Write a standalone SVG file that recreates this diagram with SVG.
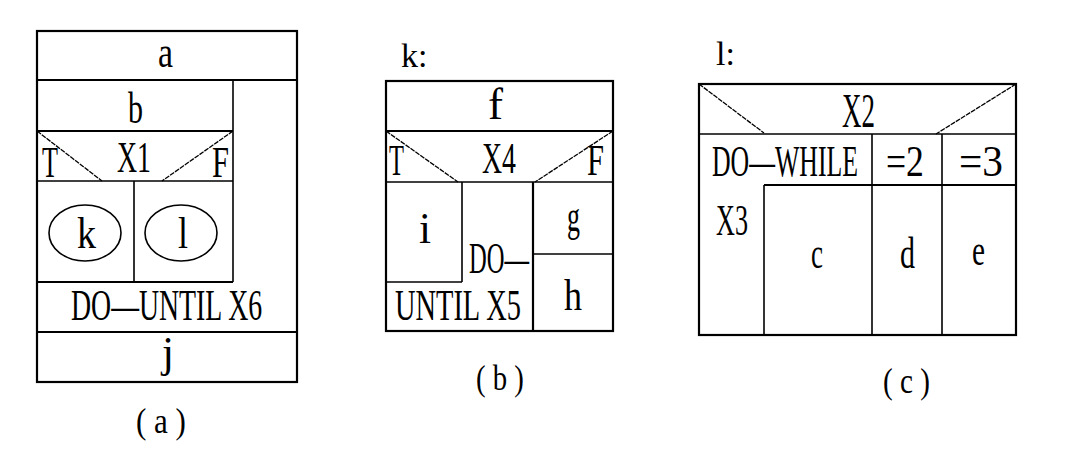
<svg xmlns="http://www.w3.org/2000/svg" width="1073" height="465" viewBox="0 0 1073 465">
<style>
.t{font-family:"Liberation Serif","DejaVu Serif",serif;font-size:44px;fill:#000}
.s{font-size:36px}
.ln{stroke:#000;stroke-width:1.6;fill:none}
.bx{stroke:#000;stroke-width:2.2;fill:none}
.dg{stroke:#000;stroke-width:1.3;stroke-dasharray:5 1;fill:none}
</style>
<rect width="1073" height="465" fill="#fff"/>
<g id="diagram-a">
  <rect class="bx" x="37" y="31" width="260" height="351"/>
  <g id="a-a"><line class="bx" x1="37" y1="80" x2="297" y2="80"/><text class="t" x="158" y="67" textLength="15" lengthAdjust="spacingAndGlyphs">a</text></g>
  <g id="a-b"><line class="bx" x1="37" y1="131" x2="233" y2="131"/><line class="ln" x1="233" y1="80" x2="233" y2="282"/><text class="t" x="128" y="123" textLength="15" lengthAdjust="spacingAndGlyphs">b</text></g>
  <g id="a-x1">
    <line class="ln" x1="37" y1="181" x2="233" y2="181"/>
    <line class="dg" x1="37" y1="131" x2="102" y2="181"/>
    <line class="dg" x1="233" y1="131" x2="162" y2="181"/>
    <text class="t" x="42" y="177" textLength="16" lengthAdjust="spacingAndGlyphs">T</text>
    <text class="t" transform="translate(117,172) scale(0.632,1)">X1</text>
    <text class="t" x="212" y="177" textLength="17" lengthAdjust="spacingAndGlyphs">F</text>
  </g>
  <g id="a-k"><line class="ln" x1="134" y1="181" x2="134" y2="282"/><ellipse class="ln" cx="85" cy="233" rx="36" ry="28"/><text class="t" x="77" y="248" textLength="19" lengthAdjust="spacingAndGlyphs">k</text></g>
  <g id="a-l"><ellipse class="ln" cx="181" cy="233" rx="36" ry="28"/><text class="t" x="178" y="248" textLength="10" lengthAdjust="spacingAndGlyphs">l</text></g>
  <g id="a-until"><line class="bx" x1="37" y1="282" x2="233" y2="282"/><text class="t" transform="translate(71,320) scale(0.632,1)">DO—UNTIL X6</text></g>
  <g id="a-j"><line class="bx" x1="37" y1="332" x2="297" y2="332"/><text class="t" x="162" y="367" textLength="12" lengthAdjust="spacingAndGlyphs">j</text></g>
  <text class="t s" transform="translate(136,433) scale(0.862,1)">( a )</text>
</g>
<g id="diagram-b">
  <text class="t" style="font-size:34px" x="401" y="67">k:</text>
  <rect class="bx" x="386" y="81" width="227" height="250"/>
  <g id="b-f"><line class="bx" x1="386" y1="131" x2="613" y2="131"/><text class="t" x="488" y="119" textLength="15" lengthAdjust="spacingAndGlyphs">f</text></g>
  <g id="b-x4">
    <line class="ln" x1="386" y1="182" x2="613" y2="182"/>
    <line class="dg" x1="386" y1="131" x2="458" y2="182"/>
    <line class="dg" x1="613" y1="131" x2="535" y2="182"/>
    <text class="t" x="389" y="175" textLength="15" lengthAdjust="spacingAndGlyphs">T</text>
    <text class="t" transform="translate(482,173) scale(0.632,1)">X4</text>
    <text class="t" x="587" y="175" textLength="17" lengthAdjust="spacingAndGlyphs">F</text>
  </g>
  <g id="b-i"><line class="ln" x1="462" y1="182" x2="462" y2="282"/><line class="ln" x1="386" y1="282" x2="462" y2="282"/><text class="t" x="419" y="243" textLength="12" lengthAdjust="spacingAndGlyphs">i</text></g>
  <g id="b-until"><text class="t" transform="translate(469,273) scale(0.558,1)">DO—</text><text class="t" transform="translate(395,320) scale(0.646,1)">UNTIL X5</text></g>
  <g id="b-g"><line class="bx" x1="533" y1="182" x2="533" y2="331"/><text class="t" x="567" y="231" textLength="13" lengthAdjust="spacingAndGlyphs">g</text></g>
  <g id="b-h"><line class="ln" x1="533" y1="254" x2="613" y2="254"/><text class="t" x="564" y="310" textLength="18" lengthAdjust="spacingAndGlyphs">h</text></g>
  <text class="t s" transform="translate(476,390) scale(0.8,1)">( b )</text>
</g>
<g id="diagram-c">
  <text class="t" style="font-size:34px" x="716" y="65">l:</text>
  <rect class="bx" x="699" y="84" width="317" height="251"/>
  <g id="c-x2">
    <line class="ln" x1="699" y1="134" x2="1016" y2="134"/>
    <line class="dg" x1="699" y1="84" x2="764" y2="133"/>
    <line class="dg" x1="1016" y1="84" x2="936" y2="134"/>
    <text class="t" style="font-size:48px" transform="translate(842,127) scale(0.562,1)">X2</text>
  </g>
  <g id="c-x3"><line class="bx" x1="764" y1="185" x2="1016" y2="185"/><line class="ln" x1="764" y1="185" x2="764" y2="335"/><text class="t" transform="translate(712,176) scale(0.586,1)">DO—WHILE</text><text class="t" transform="translate(716,235) scale(0.595,1)">X3</text></g>
  <g id="c-c"><text class="t" x="811" y="268" textLength="12" lengthAdjust="spacingAndGlyphs">c</text></g>
  <g id="c-d"><line class="ln" x1="872" y1="134" x2="872" y2="335"/><text class="t" transform="translate(886,176) scale(0.81,1)">=2</text><text class="t" x="900" y="268" textLength="15" lengthAdjust="spacingAndGlyphs">d</text></g>
  <g id="c-e"><line class="ln" x1="942" y1="134" x2="942" y2="335"/><text class="t" transform="translate(959,176) scale(0.94,1)">=3</text><text class="t" x="972" y="265" textLength="13" lengthAdjust="spacingAndGlyphs">e</text></g>
  <text class="t s" transform="translate(883,393) scale(0.81,1)">( c )</text>
</g>
<g id="connectors"/>
</svg>
